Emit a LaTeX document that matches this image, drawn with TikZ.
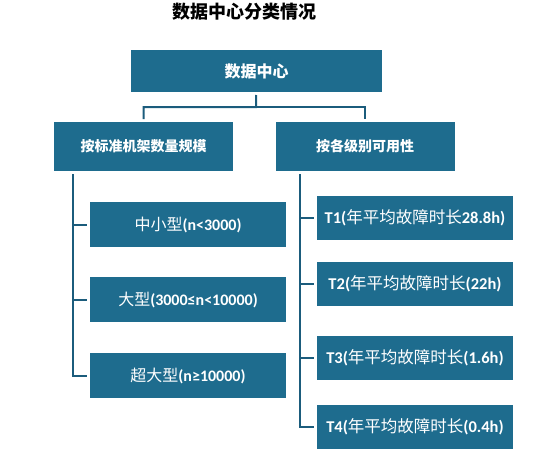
\documentclass[tikz,border=0pt]{standalone}
\usepackage{fontspec}
\setmainfont{Carlito}
\newfontfamily\cjk{Noto Sans CJK SC}
\usetikzlibrary{shadows}
\definecolor{boxblue}{HTML}{1E6C8E}
\definecolor{lineblue}{HTML}{1B5C7C}
\tikzset{
  card/.style={fill=boxblue, draw=white, line width=3pt, outer sep=1.5pt, text=white,
    drop shadow={shadow xshift=0.8pt, shadow yshift=-1.2pt, opacity=0.22}},
  head/.style={card, font=\fontsize{14}{16}\selectfont\bfseries, minimum width=182pt, minimum height=52pt},
  leaf/.style={card, font=\fontsize{16}{18}\selectfont\bfseries, minimum width=199pt, minimum height=48pt},
  link/.style={draw=lineblue, line width=2pt}
}
\begin{document}
\begin{tikzpicture}[x=1pt, y=-1pt]
  \useasboundingbox (0,0) rectangle (534,463);
  \node (title) at (244,12) {\fontsize{18}{20}\selectfont\cjk\bfseries 数据中心分类情况};
  \node[card, minimum width=254pt, minimum height=45pt, font=\fontsize{16}{18}\selectfont\bfseries] (dc) at (256.5,71) {\cjk 数据中心};
  \node[head] (bysize) at (143.5,146.5) {\cjk 按标准机架数量规模};
  \node[head] (bytier) at (365,146.5) {\cjk 按各级别可用性};
  \node[leaf] (s1) at (188,224.5) {{\cjk\mdseries 中小型}(n<3000)};
  \node[leaf] (s2) at (188,299.5) {{\cjk\mdseries 大型}(3000≤n<10000)};
  \node[leaf] (s3) at (188,375.5) {{\cjk\mdseries 超大型}(n≥10000)};
  \node[leaf, minimum height=47pt, font=\fontsize{16.5}{18}\selectfont\bfseries] (t1) at (415,218) {T1({\cjk\mdseries 年平均故障时长}28.8h)};
  \node[leaf, minimum height=47pt, font=\fontsize{16.5}{18}\selectfont\bfseries] (t2) at (415,284) {T2({\cjk\mdseries 年平均故障时长}(22h)};
  \node[leaf, minimum height=47pt, font=\fontsize{16.5}{18}\selectfont\bfseries] (t3) at (415,358) {T3({\cjk\mdseries 年平均故障时长}(1.6h)};
  \node[leaf, minimum height=47pt, font=\fontsize{16.5}{18}\selectfont\bfseries] (t4) at (415,426.5) {T4({\cjk\mdseries 年平均故障时长}(0.4h)};
  \coordinate (split) at (256,107);
  \coordinate (lspine) at (73,174);
  \coordinate (rspine) at (300,174);
  \draw[link] (dc) -- (split) -| (bysize);
  \draw[link] (split) -| (bytier);
  \draw[link] (lspine) |- (s3);
  \draw[link] (lspine |- s1) -- (s1);
  \draw[link] (lspine |- s2) -- (s2);
  \draw[link] (rspine) |- (t4);
  \foreach \t in {t1,t2,t3}
    \draw[link] (rspine |- \t) -- (\t);
\end{tikzpicture}
\end{document}
